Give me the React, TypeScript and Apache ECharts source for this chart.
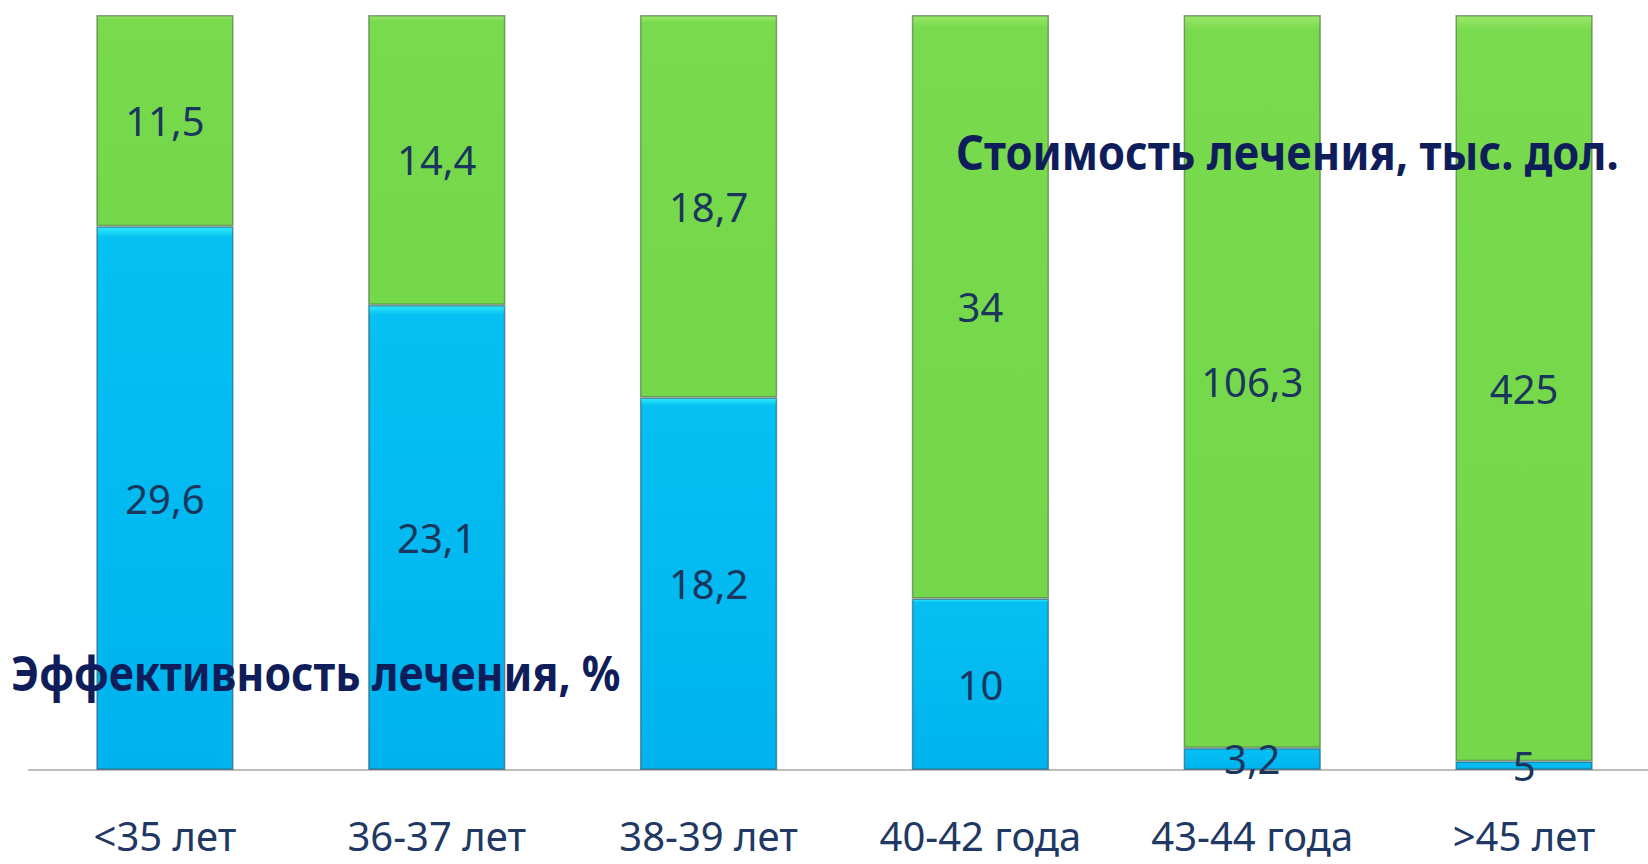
import React, { useEffect, useRef } from "react";
import * as echarts from "echarts";

const categories = ["<35 лет", "36-37 лет", "38-39 лет", "40-42 года", "43-44 года", ">45 лет"];
const efficiency = [29.6, 23.1, 18.2, 10, 3.2, 5];
const cost = [11.5, 14.4, 18.7, 34, 106.3, 425];
const costTitle = "Стоимость лечения, тыс. дол.";
const effTitle = "Эффективность лечения, %";

const FONT = '"Noto Sans", "Open Sans", sans-serif';

function fmt(v: number) {
  return String(v).replace(".", ",");
}

function fitScale(text: string, size: number, target: number) {
  const c = document.createElement("canvas").getContext("2d");
  if (!c) return 1;
  c.font = `bold ${size}px "Noto Sans"`;
  const w = c.measureText(text).width;
  return w > 0 ? target / w : 1;
}

export default function App() {
  const ref = useRef<HTMLDivElement>(null);
  useEffect(() => {
    if (!ref.current) return;
    const chart = echarts.init(ref.current, null, { renderer: "svg" });
    const totals = efficiency.map((e, i) => e + cost[i]);
    const effPct = efficiency.map((e, i) => (e / totals[i]) * 100);
    const costPct = cost.map((c, i) => (c / totals[i]) * 100);

    const labelStyle = {
      show: true,
      position: "inside" as const,
      fontFamily: FONT,
      fontSize: 40,
      color: "#1B365D",
    };

    const titleSize = 48;
    chart.setOption({
      animation: false,
      backgroundColor: "#ffffff",
      grid: { left: 29, right: 20, top: 15, bottom: 94 },
      xAxis: {
        type: "category",
        data: categories,
        axisLine: { show: true, lineStyle: { color: "#BDBDBD", width: 2 } },
        axisTick: { show: false },
        axisLabel: {
          fontFamily: FONT,
          fontSize: 40,
          lineHeight: 30,
          color: "#1F3864",
          margin: 50,
          interval: 0,
        },
      },
      yAxis: {
        type: "value",
        min: 0,
        max: 100,
        show: false,
        splitLine: { show: false },
      },
      series: [
        {
          name: "Эффективность",
          type: "bar",
          stack: "total",
          barWidth: "50.5%",
          data: effPct,
          itemStyle: {
            color: {
              type: "linear",
              x: 0, y: 0, x2: 0, y2: 1,
              colorStops: [
                { offset: 0, color: "#2DEAF8" },
                { offset: 0.02, color: "#05C0F2" },
                { offset: 1, color: "#00B3EF" },
              ],
            },
            borderColor: "rgba(40,70,90,0.55)",
            borderWidth: 1.5,
          },
          label: {
            ...labelStyle,
            formatter: (p: any) => fmt(efficiency[p.dataIndex]),
          },
        },
        {
          name: "Стоимость",
          type: "bar",
          stack: "total",
          barWidth: "50.5%",
          data: costPct,
          itemStyle: {
            color: {
              type: "linear",
              x: 0, y: 0, x2: 0, y2: 1,
              colorStops: [
                { offset: 0, color: "#9BE86B" },
                { offset: 0.02, color: "#78DA4C" },
                { offset: 1, color: "#74D84A" },
              ],
            },
            borderColor: "rgba(60,90,60,0.55)",
            borderWidth: 1.5,
          },
          label: {
            ...labelStyle,
            formatter: (p: any) => fmt(cost[p.dataIndex]),
          },
        },
      ],
      graphic: [
        {
          type: "text",
          x: 956,
          y: 151,
          z: 100,
          scaleX: fitScale(costTitle, titleSize, 663),
          style: {
            text: costTitle,
            fontFamily: FONT,
            fontSize: titleSize,
            fontWeight: "bold",
            fill: "#0F1E5A",
            textAlign: "left",
            textVerticalAlign: "middle",
          },
        },
        {
          type: "text",
          x: 11,
          y: 672,
          z: 100,
          scaleX: fitScale(effTitle, titleSize, 610),
          style: {
            text: effTitle,
            fontFamily: FONT,
            fontSize: titleSize,
            fontWeight: "bold",
            fill: "#0F1E5A",
            textAlign: "left",
            textVerticalAlign: "middle",
          },
        },
      ],
    });
    return () => chart.dispose();
  }, []);
  return (
    <div
      ref={ref}
      style={{ position: "fixed", left: 0, top: 0, width: 1680, height: 864, background: "#fff" }}
    />
  );
}
